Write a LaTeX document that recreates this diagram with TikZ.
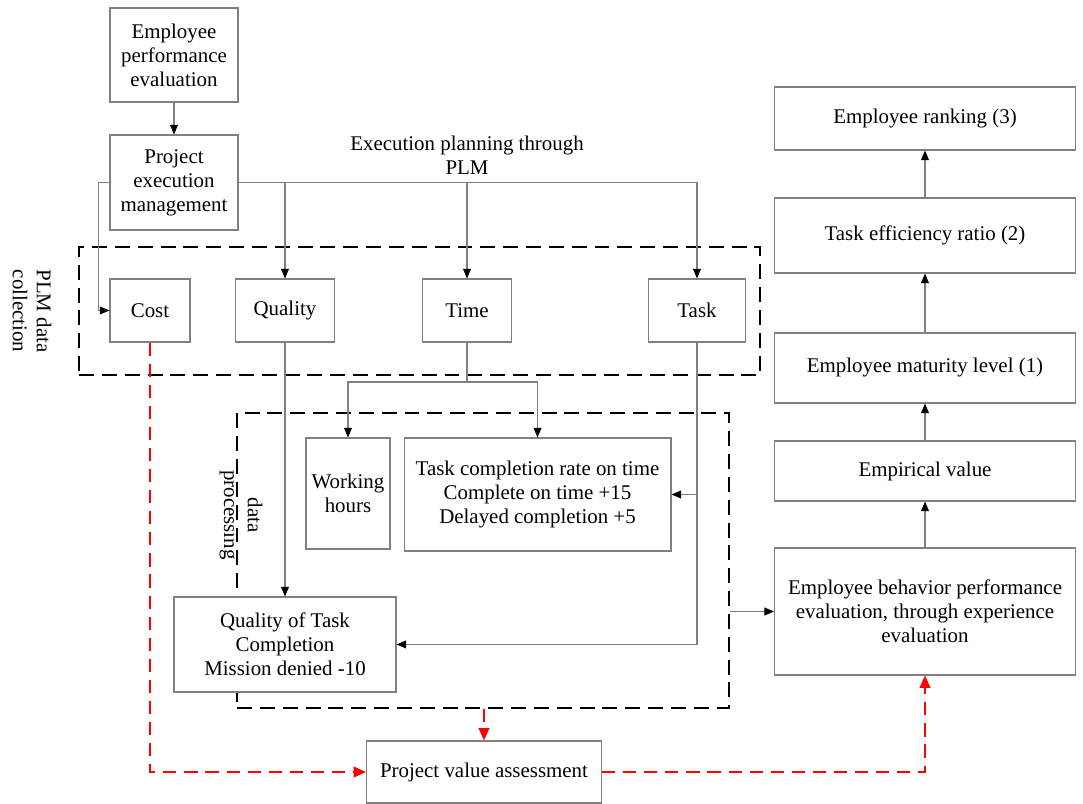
\documentclass[tikz,border=0pt]{standalone}
\usepackage{fontspec}
\setmainfont{Liberation Serif}
\usepackage{xcolor}
\usetikzlibrary{arrows.meta}

\tikzset{
  box/.style={draw=gray, fill=white, line width=0.6pt, align=center, inner sep=2pt,
    font=\fontsize{11.9}{13.6}\selectfont},
  lbl/.style={align=center, inner sep=0pt, font=\fontsize{11.9}{13.6}\selectfont},
  link/.style={draw=gray, line width=0.6pt},
  conn/.style={link, -{Triangle[length=5.5pt,width=4.5pt,color=black]}},
  dashbox/.style={draw=black, line width=1.4pt, dash pattern=on 8.5pt off 4.5pt},
  redlink/.style={draw=red, line width=1.1pt, dash pattern=on 7.5pt off 4.5pt,
    -{Triangle[length=7pt,width=6pt]}}
}

\begin{document}
\begin{tikzpicture}[x=0.02cm,y=-0.02cm]
\useasboundingbox (0,0) rectangle (1083,804);
% dashed groups first, boxes drawn over them
\node[dashbox, minimum width=13.62cm, minimum height=2.56cm] (plm) at (419.5,311) {};
\node[dashbox, minimum width=9.84cm, minimum height=5.9cm] (proc) at (483,560.5) {};
\node[lbl, rotate=-90] (plmlbl) at (32,311) {PLM data\\collection};
\node[lbl, rotate=-90] (proclbl) at (241,515) {data\\processing};
% left column
\node[box, minimum width=2.56cm, minimum height=1.88cm] (emp) at (174,55) {Employee\\performance\\evaluation};
\node[box, minimum width=2.56cm, minimum height=1.9cm] (pem) at (174,182.5) {Project\\execution\\management};
\node[lbl] (plan) at (467,155) {Execution planning through\\PLM};
% PLM data collection
\node[box, minimum width=1.6cm, minimum height=1.26cm] (cost) at (150,310.5) {Cost};
\node[box, minimum width=1.98cm, minimum height=1.26cm] (quality) at (285,310.5) {Quality};
\node[box, minimum width=1.78cm, minimum height=1.26cm] (time) at (467,310.5) {Time};
\node[box, minimum width=1.94cm, minimum height=1.26cm] (task) at (697,310.5) {Task};
% data processing
\node[box, minimum width=1.68cm, minimum height=2.22cm] (work) at (348,493.5) {Working\\hours};
\node[box, minimum width=5.34cm, minimum height=2.26cm] (rate) at (537.5,494.5) {Task completion rate on time\\Complete on time +15\\Delayed completion +5};
\node[box, minimum width=4.44cm, minimum height=1.9cm] (qual) at (285,644.5) {Quality of Task\\Completion\\Mission denied -10};
\node[box, minimum width=4.7cm, minimum height=1.24cm] (pva) at (484,772) {Project value assessment};
% right column
\node[box, minimum width=6.02cm, minimum height=2.54cm] (behav) at (925,611.5) {Employee behavior performance\\evaluation, through experience\\evaluation};
\node[box, minimum width=6.02cm, minimum height=1.2cm] (empir) at (925,471) {Empirical value};
\node[box, minimum width=6.02cm, minimum height=1.4cm] (matur) at (925,368) {Employee maturity level (1)};
\node[box, minimum width=6.02cm, minimum height=1.5cm] (effic) at (925,235.5) {Task efficiency ratio (2)};
\node[box, minimum width=6.02cm, minimum height=1.26cm] (rank) at (925,118.5) {Employee ranking (3)};

\coordinate (tsplit) at (467,382);

\draw[conn] (emp) -- (pem);
\draw[conn] (pem.west) -- ++(-11,0) |- (cost.west);
\draw[conn] (pem.east) -| (task.north);
\draw[conn] (quality.north |- pem.east) -- (quality.north);
\draw[conn] (time.north |- pem.east) -- (time.north);
\draw[link] (time.south) -- (tsplit);
\draw[conn] (tsplit) -| (work.north);
\draw[conn] (tsplit) -| (rate.north);
\draw[conn] (quality.south) -- (quality.south |- qual.north);
\draw[conn] (task.south) |- (qual.east);
\draw[conn] (task.south |- rate.east) -- (rate.east);
\draw[conn] (proc.east |- behav.west) -- (behav.west);
\draw[conn] (behav) -- (empir);
\draw[conn] (empir) -- (matur);
\draw[conn] (matur) -- (effic);
\draw[conn] (effic) -- (rank);

\draw[redlink] (cost.south) |- (pva.west);
\draw[redlink] (pva.north |- proc.south) -- (pva.north);
\draw[redlink] (pva.east) -| (behav.south);
\end{tikzpicture}
\end{document}
